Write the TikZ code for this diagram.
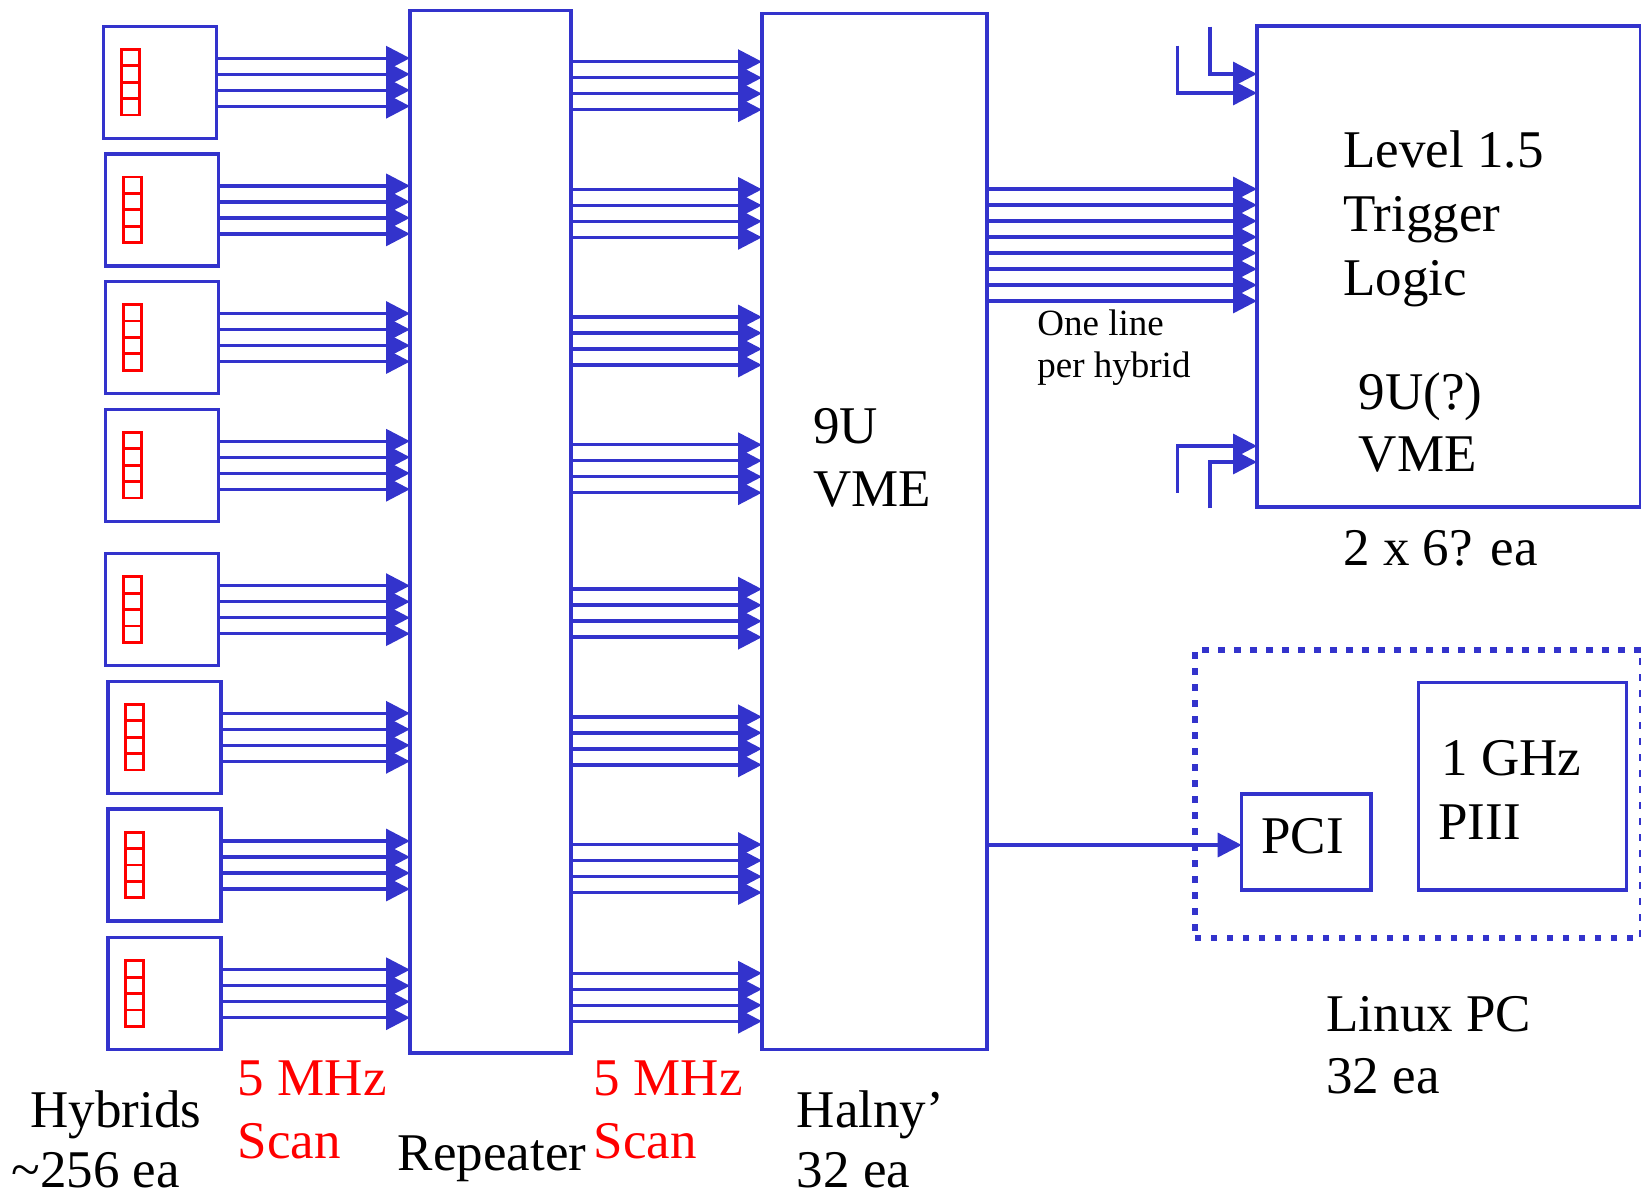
\documentclass[tikz,border=0pt]{standalone}
\usepackage{fontspec}
\setmainfont{Liberation Serif}
\usetikzlibrary{arrows.meta,calc}
\definecolor{bl}{RGB}{51,51,204}
\definecolor{rd}{RGB}{255,0,0}
\begin{document}
\begin{tikzpicture}[x=0.5pt,y=-0.5pt,
  box/.style={draw=bl,line width=1.7pt,rectangle,inner sep=0pt,outer sep=0pt},
  dotbox/.style={draw=bl,line width=3.2pt,dash pattern=on 3.2pt off 4.8pt,rectangle,inner sep=0pt,outer sep=0pt},
  arr/.style={draw=bl,line width=1.7pt,-{Triangle[length=12pt,width=12pt]}},
  chip/.style={draw=rd,line width=1.4pt},
  lbl/.style={anchor=base west,inner sep=0pt,font=\fontsize{26.5pt}{31.5pt}\selectfont},
  lblred/.style={lbl,text=rd},
  lastline/.style={lbl,text depth=0pt},
  smalllbl/.style={anchor=base west,inner sep=0pt,font=\fontsize{18.5pt}{21pt}\selectfont}]
\useasboundingbox (0,0) rectangle (1641,1196);

% hybrids
\foreach \n/\cx/\cy in {1/160.1/82.2, 2/162.2/209.85, 3/162.2/337.5, 4/162.2/465.2,
                        5/162.2/609.65, 6/164.3/737.3, 7/164.3/865, 8/164.3/993.7}
  \node[box,minimum width=56.5pt,minimum height=56pt] (h\n) at (\cx,\cy) {};

% repeater and VME
\node[box,minimum width=80.5pt,minimum height=521.25pt] (rep) at (490.5,531.75) {};
\node[box,minimum width=112.5pt,minimum height=518pt] (vme) at (874.5,531.65) {};

% level 1.5 trigger box
\node[box,minimum width=192pt,minimum height=240.5pt] (l15) at (1449,266.5) {};

% Linux PC
\node[dotbox,minimum width=223.5pt,minimum height=143.85pt] (linux) at (1418.5,793.85) {};
\node[box,minimum width=64.65pt,minimum height=48pt] (pci) at (1306.35,842) {};
\node[box,minimum width=104.2pt,minimum height=103.85pt] (cpu) at (1522.5,786.15) {};

% red chips on hybrids
\foreach \n in {1,...,8}
  \foreach \k in {0,...,3}
    \draw[chip] ($(h\n.center)+(-38.45,{-32.85+16.4*\k})$) rectangle +(17.6,16.4);

% hybrid -> repeater -> VME lines
\foreach \n in {1,...,8}
  \foreach \o in {-24,-8,8,24} {
    \draw[arr] ($(h\n.east)+(0,\o)$) -- ($(rep.west |- h\n.east)+(0,\o)$);
    \draw[arr] ($(rep.east |- h\n.east)+(0,{\o+3.5})$) -- ($(vme.west |- h\n.east)+(0,{\o+3.5})$);
  }

% VME -> level 1.5
\foreach \k in {0,...,7} {
  \coordinate (t\k) at (0,{189+16*\k});
  \draw[arr] (vme.east |- t\k) -- (l15.west |- t\k);
}

% other inputs to level 1.5
\coordinate (inA) at (1210,26.7);
\coordinate (inB) at (1177.7,45.7);
\coordinate (inC) at (1177.7,492.7);
\coordinate (inD) at (1210,508.3);
\coordinate (yA) at (0,74);
\coordinate (yB) at (0,93);
\coordinate (yC) at (0,446);
\coordinate (yD) at (0,462);
\draw[arr] (inA) |- (l15.west |- yA);
\draw[arr] (inB) |- (l15.west |- yB);
\draw[arr] (inC) |- (l15.west |- yC);
\draw[arr] (inD) |- (l15.west |- yD);

% VME -> PCI
\coordinate (yP) at (0,845);
\draw[arr] (vme.east |- yP) -- (pci.west |- yP);

% texts
\node[lbl] (tl1) at (1343,167.5) {Level 1.5};
\node[lbl] (tl2) at (1343,231.3) {Trigger};
\node[lbl] (tl3) at (1343,295.1) {Logic};
\node[lbl] (tl4) at (1358.5,409) {9U(?)};
\node[lbl] (tl5) at (1358.5,471) {VME};
\node[lbl] (tl6) at (1343,565) {2 x 6? ea};

\node[lbl] (tv1) at (813,443) {9U};
\node[lbl] (tv2) at (813,506) {VME};

\node[smalllbl] (to1) at (1037,335) {One line};
\node[smalllbl] (to2) at (1037,377) {per hybrid};

\node[lbl] (tc1) at (1441,775.5) {1 GHz};
\node[lbl] (tc2) at (1438,839.5) {PIII};
\node[lbl] (tp) at (1261,853.5) {PCI};

\node[lbl] (tx1) at (1326,1031) {Linux PC};
\node[lbl] (tx2) at (1326,1093) {32 ea};

\node[lbl] (th1) at (30,1127) {Hybrids};
\node[lastline] (th2) at (11,1187) {\textasciitilde256 ea};

\node[lblred] (ts1) at (237.5,1095) {5 MHz};
\node[lblred] (ts2) at (237.5,1158.5) {Scan};
\node[lbl] (tr) at (397.5,1170) {Repeater};
\node[lblred] (ts3) at (593.5,1095) {5 MHz};
\node[lblred] (ts4) at (593.5,1158.5) {Scan};

\node[lbl] (tn1) at (796.5,1127) {Halny’};
\node[lastline] (tn2) at (796.5,1187) {32 ea};
\end{tikzpicture}
\end{document}
